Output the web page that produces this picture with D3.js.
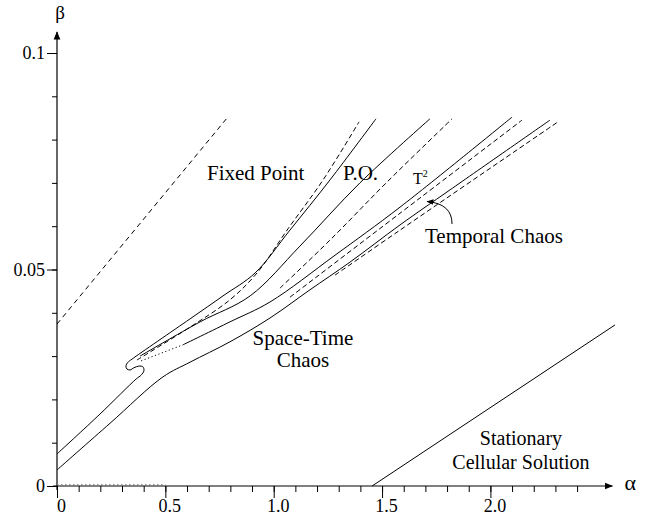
<!DOCTYPE html>
<html><head><meta charset="utf-8">
<script src="https://cdn.jsdelivr.net/npm/d3@7"></script>
<style>body{margin:0;background:#fff}svg{display:block}</style>
</head><body><svg id="chart" width="647" height="516"></svg>
<script>
// Axis ticks
const xMajorTicks = [0, 0.5, 1.0, 1.5, 2.0];
const xTickLabels = ["0", "0.5", "1.0", "1.5", "2.0"];
const xMinorTicks = d3.range(0, 25).map(i => i / 10);
const yMajorTicks = [0, 0.05, 0.1];
const yTickLabels = ["0", "0.05", "0.1"];
const yMinorTicks = d3.range(0, 11).map(i => i / 100);

// Phase boundaries, [alpha, beta]
const fixedPointLine = [[0, 0.0374], [0.785, 0.0850]];
const stationaryLine = [[1.454, 0], [2.575, 0.0372]];
const lowerChaosLine = [[0, 0.0037], [0.245, 0.0145], [0.489, 0.0252], [0.614, 0.0286], [0.798, 0.0333],
  [0.983, 0.0388], [1.167, 0.0453], [1.352, 0.0517], [1.583, 0.0603], [1.814, 0.0684], [2.275, 0.0845]];
const foldLine = [[0, 0.0074], [0.198, 0.0166], [0.365, 0.0247], [0.388, 0.0256], [0.401, 0.0266],
  [0.397, 0.0275], [0.378, 0.0277], [0.355, 0.0273], [0.337, 0.0268], [0.323, 0.0270], [0.318, 0.0277],
  [0.328, 0.0286], [0.346, 0.0293], [0.614, 0.0386], [0.766, 0.0439], [0.914, 0.0492], [1.075, 0.0591],
  [1.260, 0.0707], [1.472, 0.0848]];
const poLowerDashed = [[0.369, 0.0291], [0.614, 0.0367], [0.798, 0.0430], [0.923, 0.0492], [1.066, 0.0594],
  [1.228, 0.0707], [1.394, 0.0841]];
const poUpperLine = [[0.383, 0.0300], [0.660, 0.0379], [0.891, 0.0439], [1.121, 0.0554], [1.398, 0.0700], [1.721, 0.0848]];
const torusDashed = [[1.029, 0.0457], [1.260, 0.0568], [1.523, 0.0702], [1.823, 0.0848]];
const torusDotted = [[0.388, 0.0289], [0.581, 0.0326]];
const torusLine = [[0.581, 0.0326], [0.798, 0.0379], [0.983, 0.0425], [1.283, 0.0533], [1.583, 0.0644], [2.100, 0.0852]];
const chaosDashed = [[1.075, 0.0436], [1.583, 0.0630], [2.146, 0.0845]];
const lowerDashed = [[1.283, 0.0487], [1.583, 0.0591], [2.312, 0.0841]];
const axisDotted = [[0, 0.0003], [0.5, 0.0003]];

const svg = d3.select("#chart");
const x = d3.scaleLinear().domain([0, 1]).range([57, 273.7]);
const y = d3.scaleLinear().domain([0, 0.1]).range([486, 53]);
const font = "'Liberation Serif', 'Times New Roman', serif";

svg.append("defs").append("marker")
  .attr("id", "arr").attr("viewBox", "0 0 10 10").attr("refX", 9).attr("refY", 5)
  .attr("markerWidth", 7).attr("markerHeight", 7).attr("orient", "auto")
  .append("path").attr("d", "M0,1 L10,5 L0,9 Z").attr("fill", "#000");

// Axes
const gx = svg.append("g").attr("transform", `translate(0,${y(0)})`);
gx.call(d3.axisBottom(x).tickValues(xMinorTicks).tickSize(6).tickFormat(""));
gx.call(g => g.select(".domain").remove());
const gx2 = svg.append("g").attr("transform", `translate(0,${y(0)})`);
gx2.call(d3.axisBottom(x).tickValues(xMajorTicks).tickSize(12).tickPadding(1)
  .tickFormat((d, i) => xTickLabels[i]));
gx2.call(g => g.select(".domain").remove());
gx2.selectAll("text").attr("font-family", font).attr("font-size", 18).attr("fill", "#000").attr("dx", 4);

const gy = svg.append("g").attr("transform", `translate(${x(0)},0)`);
gy.call(d3.axisLeft(y).tickValues(yMinorTicks).tickSize(5).tickFormat(""));
gy.call(g => g.select(".domain").remove());
const gy2 = svg.append("g").attr("transform", `translate(${x(0)},0)`);
gy2.call(d3.axisLeft(y).tickValues(yMajorTicks).tickSize(10).tickPadding(2)
  .tickFormat((d, i) => yTickLabels[i]));
gy2.call(g => g.select(".domain").remove());
gy2.selectAll("text").attr("font-family", font).attr("font-size", 18).attr("fill", "#000");
svg.selectAll(".tick line").attr("stroke", "#000").attr("stroke-width", 1);

svg.append("line").attr("x1", x(0) - 4).attr("x2", x(2.48) + 18).attr("y1", y(0)).attr("y2", y(0))
  .attr("stroke", "#000").attr("stroke-width", 1.2).attr("marker-end", "url(#arr)");
svg.append("line").attr("x1", x(0)).attr("x2", x(0)).attr("y1", y(0) + 4).attr("y2", y(0.1) - 21)
  .attr("stroke", "#000").attr("stroke-width", 1.2).attr("marker-end", "url(#arr)");
svg.append("text").attr("x", x(2.48) + 30).attr("y", y(0) + 4).attr("font-family", font)
  .attr("font-size", 22).text("α");
svg.append("text").attr("x", x(0) + 3).attr("y", y(0.1) - 34).attr("text-anchor", "middle")
  .attr("font-family", font).attr("font-size", 19).text("β");

// Boundaries
const smooth = d3.line().x(d => x(d[0])).y(d => y(d[1])).curve(d3.curveCatmullRom.alpha(0.5));
function draw(data, dash, color) {
  svg.append("path").attr("d", smooth(data)).attr("fill", "none")
    .attr("stroke", color || "#000").attr("stroke-width", 1)
    .attr("stroke-dasharray", dash || null);
}
draw(axisDotted, "1.5,2.5", "#777");
draw(fixedPointLine, "5,4");
draw(stationaryLine);
draw(lowerChaosLine);
draw(foldLine);
draw(poLowerDashed, "5,3");
draw(poUpperLine);
draw(torusDashed, "5,3");
draw(torusDotted, "1.2,2.5");
draw(torusLine);
draw(chaosDashed, "5,3");
draw(lowerDashed, "5,3");

// Region labels
function label(txt, a, b, size, anchor) {
  return svg.append("text").attr("x", x(a)).attr("y", y(b)).attr("font-family", font)
    .attr("font-size", size).attr("text-anchor", anchor || "start").text(txt);
}
label("Fixed Point", 0.692, 0.0707, 21);
label("P.O.", 1.320, 0.0707, 21);
const t2 = label("T", 1.643, 0.0698, 16);
t2.append("tspan").attr("font-size", 10).attr("dy", -7).text("2");
label("Temporal Chaos", 1.698, 0.0561, 21);
label("Space-Time", 1.135, 0.0325, 21, "middle");
label("Chaos", 1.135, 0.0274, 21, "middle");
label("Stationary", 2.141, 0.0095, 20, "middle");
label("Cellular Solution", 2.141, 0.0040, 20, "middle");

// Pointer to the temporal chaos band
const p = d3.path();
p.moveTo(x(1.823), y(0.0605));
p.quadraticCurveTo(x(1.823), y(0.0652), x(1.708), y(0.0657));
svg.append("path").attr("d", p.toString()).attr("fill", "none").attr("stroke", "#000")
  .attr("stroke-width", 1).attr("marker-end", "url(#arr)");
</script></body></html>
